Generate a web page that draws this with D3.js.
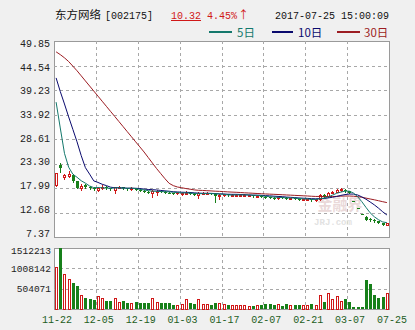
<!DOCTYPE html>
<html>
<head>
<meta charset="utf-8">
<script src="https://cdn.jsdelivr.net/npm/d3@7"></script>
<style>
  body { margin: 0; background: #f0f0f0; }
  text { font-family: "Liberation Mono", "DejaVu Sans Mono", monospace; }
  .cjk { font-family: "Noto Sans CJK SC", sans-serif; }
</style>
</head>
<body>
<div id="chart"></div>
<script>
// tick labels
var priceTicks = ["49.85", "44.54", "39.23", "33.92", "28.61", "23.30", "17.99", "12.68", "7.37"];
var volTicks = [1512213, 1008142, 504071];
var dateIdx = [0, 10, 20, 30, 40, 50, 60, 70, 80];
var dateLab = ["11-22", "12-05", "12-19", "01-03", "01-17", "02-07", "02-21", "03-07", "07-25"];

// daily bars
var open = [18.6,22.9,20.4,20.6,20.9,19.4,17.9,18.6,18.3,18.0,
  17.6,18.0,18.3,17.9,17.6,18.0,18.2,17.9,17.7,17.9,
  17.6,17.4,17.2,16.9,17.1,17.4,17.2,17.0,16.9,16.8,
  16.6,16.7,17.0,16.7,16.4,16.7,16.8,17.0,16.7,16.2,
  16.4,16.6,16.3,16.4,16.4,16.4,16.3,16.4,16.2,16.3,
  16.1,16.0,15.9,15.8,16.0,15.9,15.7,15.8,15.6,15.5,
  15.5,15.6,15.3,15.5,16.4,16.2,16.9,17.2,17.5,17.6,
  17.3,15.15,13.64,12.28,11.6,11.2,11.0,10.8,10.4,9.95];
var high = [21.29,23.5,21.1,21.6,21.1,19.6,18.9,18.9,18.5,18.2,
  18.3,18.6,18.4,18.0,18.3,18.5,18.3,18.0,18.1,18.0,
  17.7,17.5,17.3,17.5,17.6,17.5,17.3,17.1,17.0,17.2,
  17.0,17.3,17.1,16.8,17.1,17.1,17.2,17.0,16.8,16.7,
  16.7,16.6,16.6,16.6,16.6,16.6,16.5,16.4,16.4,16.4,
  16.2,16.1,16.0,16.1,16.0,16.0,15.9,15.8,15.7,15.7,
  15.7,15.6,15.6,16.7,16.6,17.1,17.4,17.7,17.9,17.7,
  17.4,15.15,13.64,12.28,12.0,11.4,11.2,10.9,10.5,10.5];
var low = [18.4,21.5,19.9,20.3,19.2,17.9,17.6,18.0,17.8,17.5,
  17.4,17.8,17.8,17.5,16.9,17.9,17.8,17.6,17.6,17.5,
  17.3,17.1,16.9,16.0,16.5,17.1,16.9,16.8,16.7,16.7,
  16.5,16.6,16.6,16.4,15.9,16.6,16.7,16.6,15.0,15.6,
  16.3,16.3,16.2,16.3,16.3,16.3,16.2,16.1,16.1,16.0,
  15.9,15.8,15.7,15.7,15.8,15.6,15.6,15.5,15.4,15.4,
  15.4,15.1,15.2,15.4,16.0,16.1,16.8,17.1,17.4,17.2,
  16.8,15.15,13.64,12.28,11.05,10.8,10.7,10.3,9.88,9.9];
var close = [21.29,22.3,20.8,21.1,19.4,18.0,18.5,18.2,18.0,17.7,
  18.0,18.3,17.9,17.7,18.1,18.2,17.9,17.7,17.9,17.6,
  17.4,17.2,17.0,17.3,17.4,17.2,17.0,16.9,16.8,17.1,
  16.8,17.0,16.7,16.5,16.8,16.9,17.0,16.7,16.3,16.5,
  16.6,16.4,16.5,16.5,16.5,16.5,16.4,16.2,16.3,16.1,
  16.0,15.9,15.8,16.0,15.9,15.7,15.8,15.6,15.5,15.6,
  15.6,15.3,15.5,16.4,16.2,16.9,17.2,17.5,17.7,17.3,
  16.83,15.15,13.64,12.28,11.05,10.95,10.85,10.4,9.88,10.32];
var volume = [1050000,1512213,870000,750000,650000,560000,340000,285000,237000,220000,
  317000,268000,195000,195000,285000,171000,195000,150000,150000,171000,
  146000,150000,150000,268000,171000,146000,150000,150000,105000,105000,
  122000,237000,146000,130000,237000,122000,122000,100000,146000,140000,
  122000,90000,95000,90000,90000,90000,73000,65000,90000,105000,
  115000,115000,105000,115000,80000,115000,105000,100000,90000,105000,
  105000,115000,105000,340000,171000,407000,237000,317000,195000,237000,
  171000,45000,45000,45000,707000,610000,340000,268000,293000,390000];

// moving averages
var ma5 = [36.6,31.0,25.5,22.5,20.98,20.32,19.56,19.04,18.42,18.08,
  18.08,18.04,17.98,17.92,18.0,18.04,17.96,17.92,17.96,17.86,
  17.7,17.56,17.42,17.3,17.26,17.22,17.18,17.16,17.06,17.0,
  16.92,16.92,16.88,16.82,16.76,16.78,16.78,16.78,16.74,16.68,
  16.62,16.5,16.46,16.5,16.5,16.48,16.48,16.42,16.38,16.3,
  16.2,16.1,16.02,15.96,15.92,15.86,15.84,15.8,15.7,15.64,
  15.62,15.52,15.5,15.68,15.8,16.06,16.44,16.84,17.1,17.32,
  17.31,16.9,16.12,15.04,13.79,12.61,11.75,11.11,10.63,10.48];
var ma10 = [41.85,38.9,36.2,33.4,30.7,28.0,25.0,22.4,21.0,19.53,
  19.2,18.8,18.51,18.17,18.04,18.06,18.0,17.95,17.94,17.93,
  17.87,17.76,17.67,17.63,17.56,17.46,17.37,17.29,17.18,17.13,
  17.07,17.05,17.02,16.94,16.88,16.85,16.85,16.83,16.78,16.72,
  16.7,16.64,16.62,16.62,16.59,16.55,16.49,16.44,16.44,16.4,
  16.34,16.29,16.22,16.17,16.11,16.03,15.97,15.91,15.83,15.78,
  15.74,15.68,15.65,15.69,15.72,15.84,15.98,16.17,16.39,16.56,
  16.68,16.67,16.48,16.07,15.56,14.96,14.33,13.62,12.83,12.14];
var ma30 = [47.5,46.9,46.2,45.4,44.4,43.4,42.3,41.2,40.1,39.0,
  37.9,36.8,35.7,34.6,33.5,32.4,31.3,30.2,29.1,28.0,
  26.9,25.8,24.6,23.4,22.2,21.1,20.0,19.0,18.5,18.2,
  18.05,17.87,17.73,17.58,17.49,17.46,17.41,17.36,17.3,17.26,
  17.21,17.15,17.1,17.06,17.01,16.95,16.9,16.85,16.8,16.75,
  16.7,16.66,16.62,16.58,16.53,16.48,16.44,16.39,16.35,16.3,
  16.26,16.2,16.16,16.16,16.14,16.14,16.15,16.17,16.22,16.25,
  16.25,16.21,16.12,15.98,15.8,15.61,15.43,15.23,15.02,14.83];

var RED = "#d01818", GREEN = "#17801a", GRID = "#a8a8a8", BORDER = "#9a9a9a";
var C5 = "#14786c", C10 = "#0a0a6e", C30 = "#9c1c22";

var svg = d3.select("#chart").append("svg")
  .attr("width", 415)
  .attr("height", 330);
svg.append("rect").attr("width", 415).attr("height", 330).attr("fill", "#f0f0f0");

var L = 54, R = 389;
var pTop = 41, pBot = 237, vTop = 248, vBot = 309;

var x = d3.scaleLinear().domain([0, 80]).range([L, R]);
var y = d3.scaleLinear().domain([7.37, 49.85]).range([pBot, pTop]);
var yLab = d3.scaleLinear().domain([7.37, 49.85]).range([233, 43.5]);
var yv = d3.scaleLinear().domain([0, 1512213]).range([vBot, vTop]);

// panels
[[pTop, pBot], [vTop, vBot]].forEach(function(p){
  svg.append("rect")
    .attr("x", L + 0.5).attr("y", p[0] + 0.5)
    .attr("width", R - L).attr("height", p[1] - p[0])
    .attr("fill", "#fff").attr("stroke", BORDER);
});

// grid
var g = svg.append("g").attr("stroke", GRID).attr("stroke-dasharray", "3,3").attr("shape-rendering", "crispEdges");
dateIdx.slice(1, -1).forEach(function(i){
  var xx = Math.round(x(i)) + 0.5;
  g.append("line").attr("x1", xx).attr("x2", xx).attr("y1", pTop).attr("y2", pBot);
  g.append("line").attr("x1", xx).attr("x2", xx).attr("y1", vTop).attr("y2", vBot);
});
priceTicks.slice(1, -1).forEach(function(t){
  var yy = Math.round(y(+t)) + 0.5;
  g.append("line").attr("x1", L).attr("x2", R).attr("y1", yy).attr("y2", yy);
});
volTicks.slice(1).forEach(function(t){
  var yy = Math.round(yv(t)) + 0.5;
  g.append("line").attr("x1", L).attr("x2", R).attr("y1", yy).attr("y2", yy);
});

// axis labels
svg.append("g").selectAll("text").data(priceTicks).enter().append("text")
  .attr("x", 50).attr("y", function(d){ return yLab(+d); })
  .attr("dy", "0.35em").attr("text-anchor", "end")
  .attr("font-size", 10).attr("fill", "#222")
  .text(function(d){ return d; });
svg.append("g").selectAll("text").data(volTicks).enter().append("text")
  .attr("x", 51).attr("y", function(d, i){ return i == 0 ? yv(d) + 3 : yv(d); })
  .attr("dy", "0.35em").attr("text-anchor", "end")
  .attr("font-size", 9.5).attr("fill", "#222")
  .text(function(d){ return d; });
svg.append("g").selectAll("text").data(dateLab).enter().append("text")
  .attr("x", function(d, i){ return x(dateIdx[i]) + 3; }).attr("y", 323)
  .attr("text-anchor", "middle")
  .attr("font-size", 10).attr("fill", "#1e5e1e")
  .text(function(d){ return d; });

// watermark
svg.append("text").attr("class", "cjk").attr("x", 340).attr("y", 210)
  .attr("text-anchor", "middle").attr("font-size", 15).attr("font-weight", "bold")
  .attr("fill", "#ead9d9").text("金融界");
svg.append("text").attr("x", 333).attr("y", 225)
  .attr("text-anchor", "middle").attr("font-size", 9).attr("font-weight", "bold")
  .attr("fill", "#e2e2e2").text("JRJ.com");

// bars
var bars = d3.range(close.length).map(function(i){
  var up = close[i] > open[i] || (close[i] == open[i] && i > 0 && close[i] >= close[i-1]);
  return {i: i, o: open[i], h: high[i], l: low[i], c: close[i], v: volume[i], up: up};
});
function bx(d){ return Math.round(x(d.i)) + 1; }

var vol = svg.append("g").attr("shape-rendering", "crispEdges");
vol.selectAll("rect").data(bars).enter().append("rect")
  .attr("x", function(d){ return d.up ? bx(d) + 0.5 : bx(d); })
  .attr("y", function(d){ return d.up ? Math.round(yv(d.v)) + 0.5 : Math.round(yv(d.v)); })
  .attr("width", function(d){ return d.up ? 2 : 3; })
  .attr("height", function(d){ return vBot - Math.round(yv(d.v)) - (d.up ? 0.5 : 0); })
  .attr("fill", function(d){ return d.up ? "#fff" : GREEN; })
  .attr("stroke", function(d){ return d.up ? RED : "none"; });

var clip = svg.append("clipPath").attr("id", "pc").append("rect")
  .attr("x", L + 1).attr("y", pTop + 1).attr("width", R - L - 1).attr("height", pBot - pTop - 1);

var k = svg.append("g").attr("shape-rendering", "crispEdges");
k.selectAll("line").data(bars).enter().append("line")
  .attr("x1", function(d){ return bx(d) + 1.5; })
  .attr("x2", function(d){ return bx(d) + 1.5; })
  .attr("y1", function(d){ return Math.round(y(d.h)); })
  .attr("y2", function(d){ return Math.round(y(d.l)) + 1; })
  .attr("stroke", function(d){ return d.up ? RED : GREEN; });
k.selectAll("rect").data(bars).enter().append("rect")
  .attr("x", function(d){ return d.up ? bx(d) + 0.5 : bx(d); })
  .attr("y", function(d){ return Math.round(y(Math.max(d.o, d.c))) + (d.up ? 0.5 : 0); })
  .attr("width", function(d){ return d.up ? 2 : 3; })
  .attr("height", function(d){
    return Math.max(1, Math.round(y(Math.min(d.o, d.c))) - Math.round(y(Math.max(d.o, d.c))));
  })
  .attr("fill", function(d){ return d.up ? "#fff" : GREEN; })
  .attr("stroke", function(d){ return d.up ? RED : "none"; });

// moving average lines
var line = d3.line()
  .x(function(d, i){ return x(i + 0.5); })
  .y(function(d){ return y(d); });
var mg = svg.append("g").attr("clip-path", "url(#pc)").attr("fill", "none").attr("stroke-width", 1);
mg.append("path").attr("d", line(ma30)).attr("stroke", C30);
mg.append("path").attr("d", line(ma10)).attr("stroke", C10);
mg.append("path").attr("d", line(ma5)).attr("stroke", C5);

// header
var t = svg.append("text").attr("x", 55).attr("y", 19).attr("fill", "#111");
t.append("tspan").attr("class", "cjk").attr("font-size", 11.5).text("东方网络");
t.append("tspan").attr("font-size", 10).attr("dx", 4).text("[002175]");
svg.append("text").attr("x", 171).attr("y", 19).attr("font-size", 10).attr("fill", RED)
  .attr("text-decoration", "underline").text("10.32");
var pct = svg.append("text").attr("x", 207).attr("y", 19).attr("font-size", 10).attr("fill", RED);
pct.append("tspan").text("4.45%");
pct.append("tspan").attr("class", "cjk").attr("font-size", 11).attr("dx", 1).text("↑");
svg.append("text").attr("x", 389).attr("y", 19).attr("font-size", 10).attr("fill", "#111")
  .attr("text-anchor", "end").text("2017-07-25 15:00:09");

// legend
var legend = [
  {x1: 209, x2: 232, tx: 237, label: "5日", c: C5},
  {x1: 272, x2: 293, tx: 298, label: "10日", c: C10},
  {x1: 337, x2: 360, tx: 364, label: "30日", c: C30}
];
legend.forEach(function(d){
  svg.append("line").attr("x1", d.x1).attr("x2", d.x2).attr("y1", 32).attr("y2", 32)
    .attr("stroke", d.c).attr("stroke-width", 2);
  svg.append("text").attr("class", "cjk").attr("x", d.tx).attr("y", 36.5)
    .attr("font-size", 11.5).attr("fill", d.c).text(d.label);
});
</script>
</body>
</html>
